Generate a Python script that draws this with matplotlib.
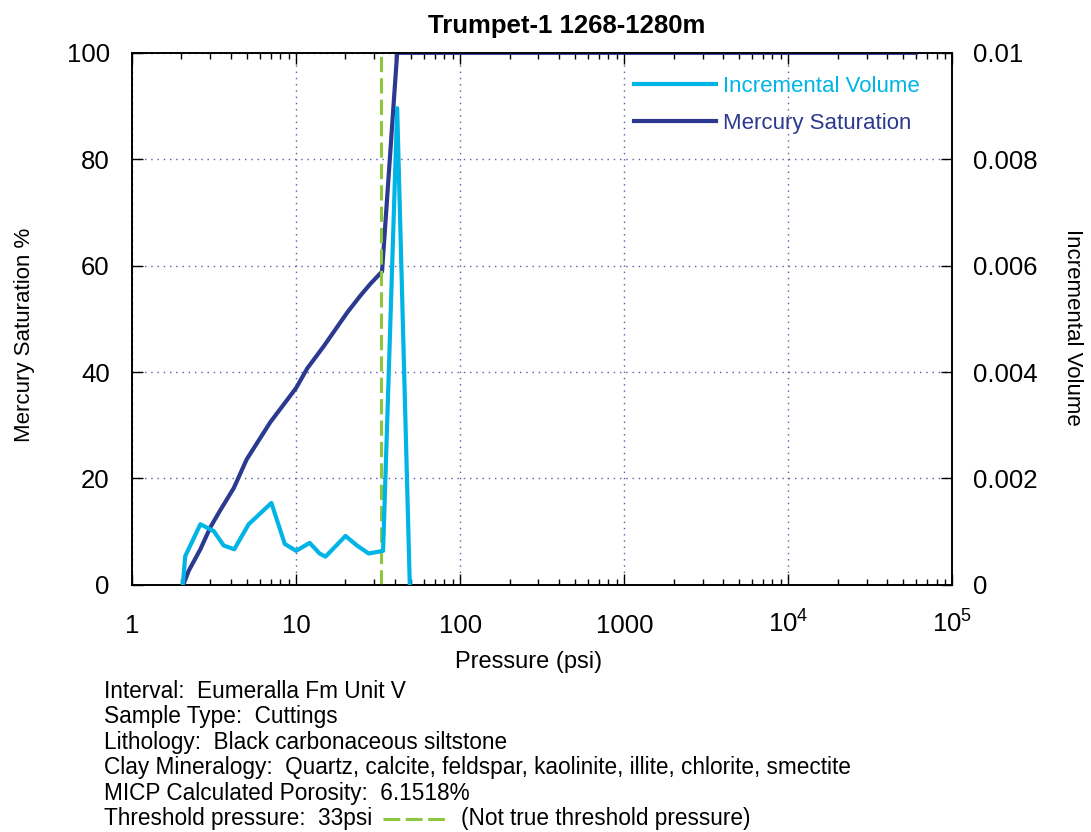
import matplotlib
matplotlib.use("Agg")
import matplotlib.pyplot as plt
from matplotlib.lines import Line2D

# Datos
pressure_hg = [2.07, 2.22, 2.61, 3.0, 3.46, 4.17, 5.0, 6.97, 10.0, 11.7, 14.7,
               20.5, 24.7, 28.4, 33.4, 41.3, 60000]
mercury_sat = [0.3, 2.7, 6.7, 10.8, 14.1, 18.2, 23.6, 30.6, 37.0, 40.7, 44.8,
               51.2, 54.4, 56.6, 58.9, 100, 100]

pressure_inc = [2.04, 2.11, 2.61, 3.15, 3.62, 4.2, 5.14, 7.07, 8.53, 10.0, 12.1,
                13.9, 15.1, 20.0, 23.5, 27.7, 33.9, 41.3, 49.3]
incr_volume = [0.0, 0.00054, 0.00114, 0.00101, 0.00074, 0.00067, 0.00114, 0.00154,
               0.00077, 0.00064, 0.00079, 0.00059, 0.00053, 0.00092, 0.00074,
               0.00059, 0.00064, 0.00896, 0.0]

threshold = 33
x_ticks = [1, 10, 100, 1000, 1e4, 1e5]
x_labels = ["1", "10", "100", "1000", r"$\mathregular{10^4}$", r"$\mathregular{10^5}$"]
y_ticks = [0, 20, 40, 60, 80, 100]
y2_ticks = [0, 0.002, 0.004, 0.006, 0.008, 0.01]
y2_labels = ["0", "0.002", "0.004", "0.006", "0.008", "0.01"]

info_lines = [
    "Interval:  Eumeralla Fm Unit V",
    "Sample Type:  Cuttings",
    "Lithology:  Black carbonaceous siltstone",
    "Clay Mineralogy:  Quartz, calcite, feldspar, kaolinite, illite, chlorite, smectite",
    "MICP Calculated Porosity:  6.1518%",
]

cyan = "#00b4e6"
navy = "#2b3990"
green = "#8dc63f"

plt.rcParams['font.family'] = ['Liberation Sans', 'DejaVu Sans']

fig = plt.figure(figsize=(10.91, 8.32), dpi=100)
ax = fig.add_axes([0.121, 0.297, 0.752, 0.6395])
ax2 = ax.twinx()

# Curvas
l_hg, = ax.plot(pressure_hg, mercury_sat, color=navy, lw=3.0, label="Mercury Saturation", zorder=3)
ax.axvline(threshold, ymin=0, ymax=1, color=green, lw=2.2, dashes=(5, 2), zorder=4)
l_inc, = ax2.plot(pressure_inc, incr_volume, color=cyan, lw=3.0, label="Incremental Volume", zorder=3)

ax.set_xscale('log')
ax.set_xlim(1, 1e5)
ax.set_ylim(0, 100)
ax2.set_ylim(0, 0.01)
ax.set_xticks(x_ticks)
ax.set_xticklabels(x_labels)
ax.set_yticks(y_ticks)
ax2.set_yticks(y2_ticks)
ax2.set_yticklabels(y2_labels)

# Rejilla
ax.grid(True, which='major', axis='both', color='#5a5aa8', linestyle=(0, (1, 3.5)), lw=1)
ax.set_axisbelow(True)

for a in (ax, ax2):
    a.tick_params(which='major', direction='in', length=8, width=1, labelsize=18.5, top=True)
    a.tick_params(which='minor', direction='in', length=4, width=1, top=True)
    for s in a.spines.values():
        s.set_linewidth(1.2)
ax.tick_params(axis='y', right=False, pad=16)
ax2.tick_params(axis='y', left=False, pad=15)
ax.tick_params(axis='x', pad=34.5)
for lab in ax.get_xticklabels():
    lab.set_verticalalignment('baseline')

ax.set_xlabel("Pressure (psi)", fontsize=17)
ax.xaxis.set_label_coords((528 - 132) / 820, (585 - 651) / 532)
ax.set_ylabel("Mercury Saturation %", fontsize=16, va='bottom')
ax.yaxis.set_label_coords((35 - 132) / 820, (585 - 335) / 532)
ax2.set_ylabel("Incremental Volume", fontsize=16, rotation=270, va='bottom')
ax2.yaxis.set_label_coords((1061 - 132) / 820, (585 - 328) / 532)
ax.set_title("Trumpet-1 1268-1280m", fontsize=18.5, fontweight='bold', pad=14,
             x=(566 - 132) / 820)

leg = ax2.legend(handles=[l_inc, l_hg], loc='upper left',
                 bbox_to_anchor=((625 - 132) / 820, (585 - 67) / 532), borderaxespad=0,
                 frameon=False, fontsize=16, handlelength=3.7, labelcolor='linecolor',
                 labelspacing=0.72, handletextpad=0.3)

# Texto inferior
fs = 16.3
y0 = 1 - 691 / 832
dy = 25.6 / 832
for i, line in enumerate(info_lines):
    fig.text(0.0953, y0 - i * dy, line, fontsize=fs, va='center', ha='left')
yt = y0 - 5 * dy
fig.text(0.0953, yt, "Threshold pressure:  33psi", fontsize=fs, va='center', ha='left')
fig.add_artist(Line2D([383 / 1091, 445 / 1091], [yt, yt], color=green, lw=2.2,
                      dashes=(5.5, 1.8), transform=fig.transFigure))
fig.text(461 / 1091, yt, "(Not true threshold pressure)", fontsize=fs, va='center', ha='left')

fig.savefig("out.png", dpi=100)
